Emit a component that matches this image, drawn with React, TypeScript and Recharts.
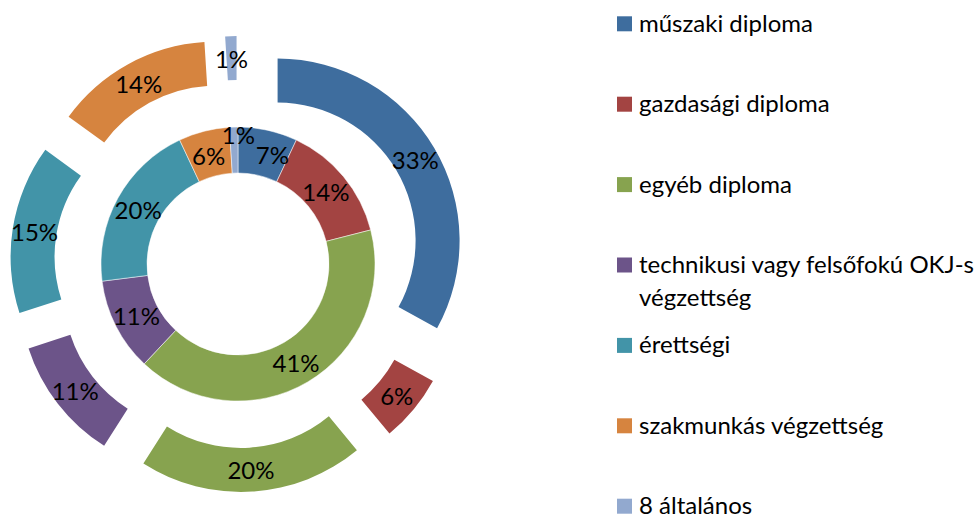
import React from 'react';
import { PieChart, Pie, Cell, Legend } from 'recharts';

const categories = [
  'műszaki diploma',
  'gazdasági diploma',
  'egyéb diploma',
  'technikusi vagy felsőfokú OKJ-s végzettség',
  'érettségi',
  'szakmunkás végzettség',
  '8 általános',
];
const innerValues = [7, 14, 41, 11, 20, 6, 1];
const outerValues = [33, 6, 20, 11, 15, 14, 1];
const colors = ['#3E6D9E', '#A34442', '#87A34F', '#6C5489', '#4294A8', '#D6843F', '#92A9CF'];

const W = 980;
const H = 518;
const CX = 238;
const CY = 264;
const EXPLODE = 46;
const FONT = 'Lato, "Open Sans", sans-serif';
const RAD = Math.PI / 180;
const LEGEND_MAX_CHARS = 32;

// label nudges (px) for crowded small inner slices, like Excel's auto placement
const innerLabelNudge: Record<number, [number, number]> = {
  0: [9.5, 1.5],
  5: [-1, 2],
  6: [4, -16],
};

const innerData = categories.map((name, i) => ({ name, value: innerValues[i] }));
const outerData = categories.map((name, i) => ({ name, value: outerValues[i] }));

const outerTotal = outerValues.reduce((a, b) => a + b, 0);
const outerCenters = outerValues.map((v, i) => {
  const before = outerValues.slice(0, i).reduce((a, b) => a + b, 0);
  const theta = ((before + v / 2) / outerTotal) * 360 * RAD;
  return { cx: CX + EXPLODE * Math.sin(theta), cy: CY - EXPLODE * Math.cos(theta) };
});

const wrapWords = (s: string, max: number) => {
  const lines: string[] = [];
  let cur = '';
  s.split(' ').forEach((w) => {
    const next = cur ? cur + ' ' + w : w;
    if (next.length > max && cur) {
      lines.push(cur);
      cur = w;
    } else {
      cur = next;
    }
  });
  if (cur) lines.push(cur);
  return lines;
};

const makeLabel = (only?: number, nudge: Record<number, [number, number]> = {}) => (props: any) => {
  if (only !== undefined && props.index !== only) return null;
  const r = (props.innerRadius + props.outerRadius) / 2;
  const [nx, ny] = nudge[props.index] ?? [0, 0];
  const x = props.cx + r * Math.cos(-props.midAngle * RAD) + nx;
  const y = props.cy + r * Math.sin(-props.midAngle * RAD) + ny;
  const v = props.value ?? props.payload?.value;
  return (
    <text
      x={x}
      y={y}
      textAnchor="middle"
      dominantBaseline="central"
      fill="#000"
      fontSize={24}
      fontFamily={FONT}
    >
      {v}%
    </text>
  );
};

const LegendList = () => (
  <svg width={W} height={H} style={{ position: 'absolute', left: 0, top: 0 }}>
    {categories.map((c, i) => {
      const center = 23.8 + i * 80.4;
      const lines = wrapWords(c, LEGEND_MAX_CHARS);
      return (
        <g key={c}>
          <rect x={617} y={center - 7.5} width={15} height={15} fill={colors[i]} />
          <text x={639} y={center + 8} fill="#000" fontSize={24} fontFamily={FONT}>
            {lines.map((ln, k) => (
              <tspan key={k} x={639} dy={k === 0 ? 0 : 33}>
                {ln}
              </tspan>
            ))}
          </text>
        </g>
      );
    })}
  </svg>
);

export default function App() {
  return (
    <div style={{ position: 'absolute', left: 0, top: 0, width: W, height: H, background: '#fff' }}>
      <PieChart width={W} height={H} margin={{ top: 0, right: 0, bottom: 0, left: 0 }}>
        <Pie
          data={innerData}
          dataKey="value"
          nameKey="name"
          cx={CX}
          cy={CY}
          innerRadius={91}
          outerRadius={137}
          startAngle={90}
          endAngle={-270}
          stroke="#fff"
          strokeWidth={0.5}
          labelLine={false}
          label={makeLabel(undefined, innerLabelNudge)}
          isAnimationActive={false}
        >
          {innerData.map((d, i) => (
            <Cell key={d.name} fill={colors[i]} />
          ))}
        </Pie>
        {outerCenters.map((c, idx) => (
          <Pie
            key={'outer' + idx}
            data={outerData}
            dataKey="value"
            nameKey="name"
            cx={c.cx}
            cy={c.cy}
            innerRadius={138}
            outerRadius={182}
            startAngle={90}
            endAngle={-270}
            labelLine={false}
            label={makeLabel(idx)}
            isAnimationActive={false}
          >
            {outerData.map((d, i) => (
              <Cell key={d.name} fill={i === idx ? colors[i] : 'none'} stroke="none" />
            ))}
          </Pie>
        ))}
        <Legend
          content={() => <LegendList />}
          wrapperStyle={{ position: 'absolute', left: 0, top: 0, width: W, height: H, pointerEvents: 'none' }}
        />
      </PieChart>
    </div>
  );
}
